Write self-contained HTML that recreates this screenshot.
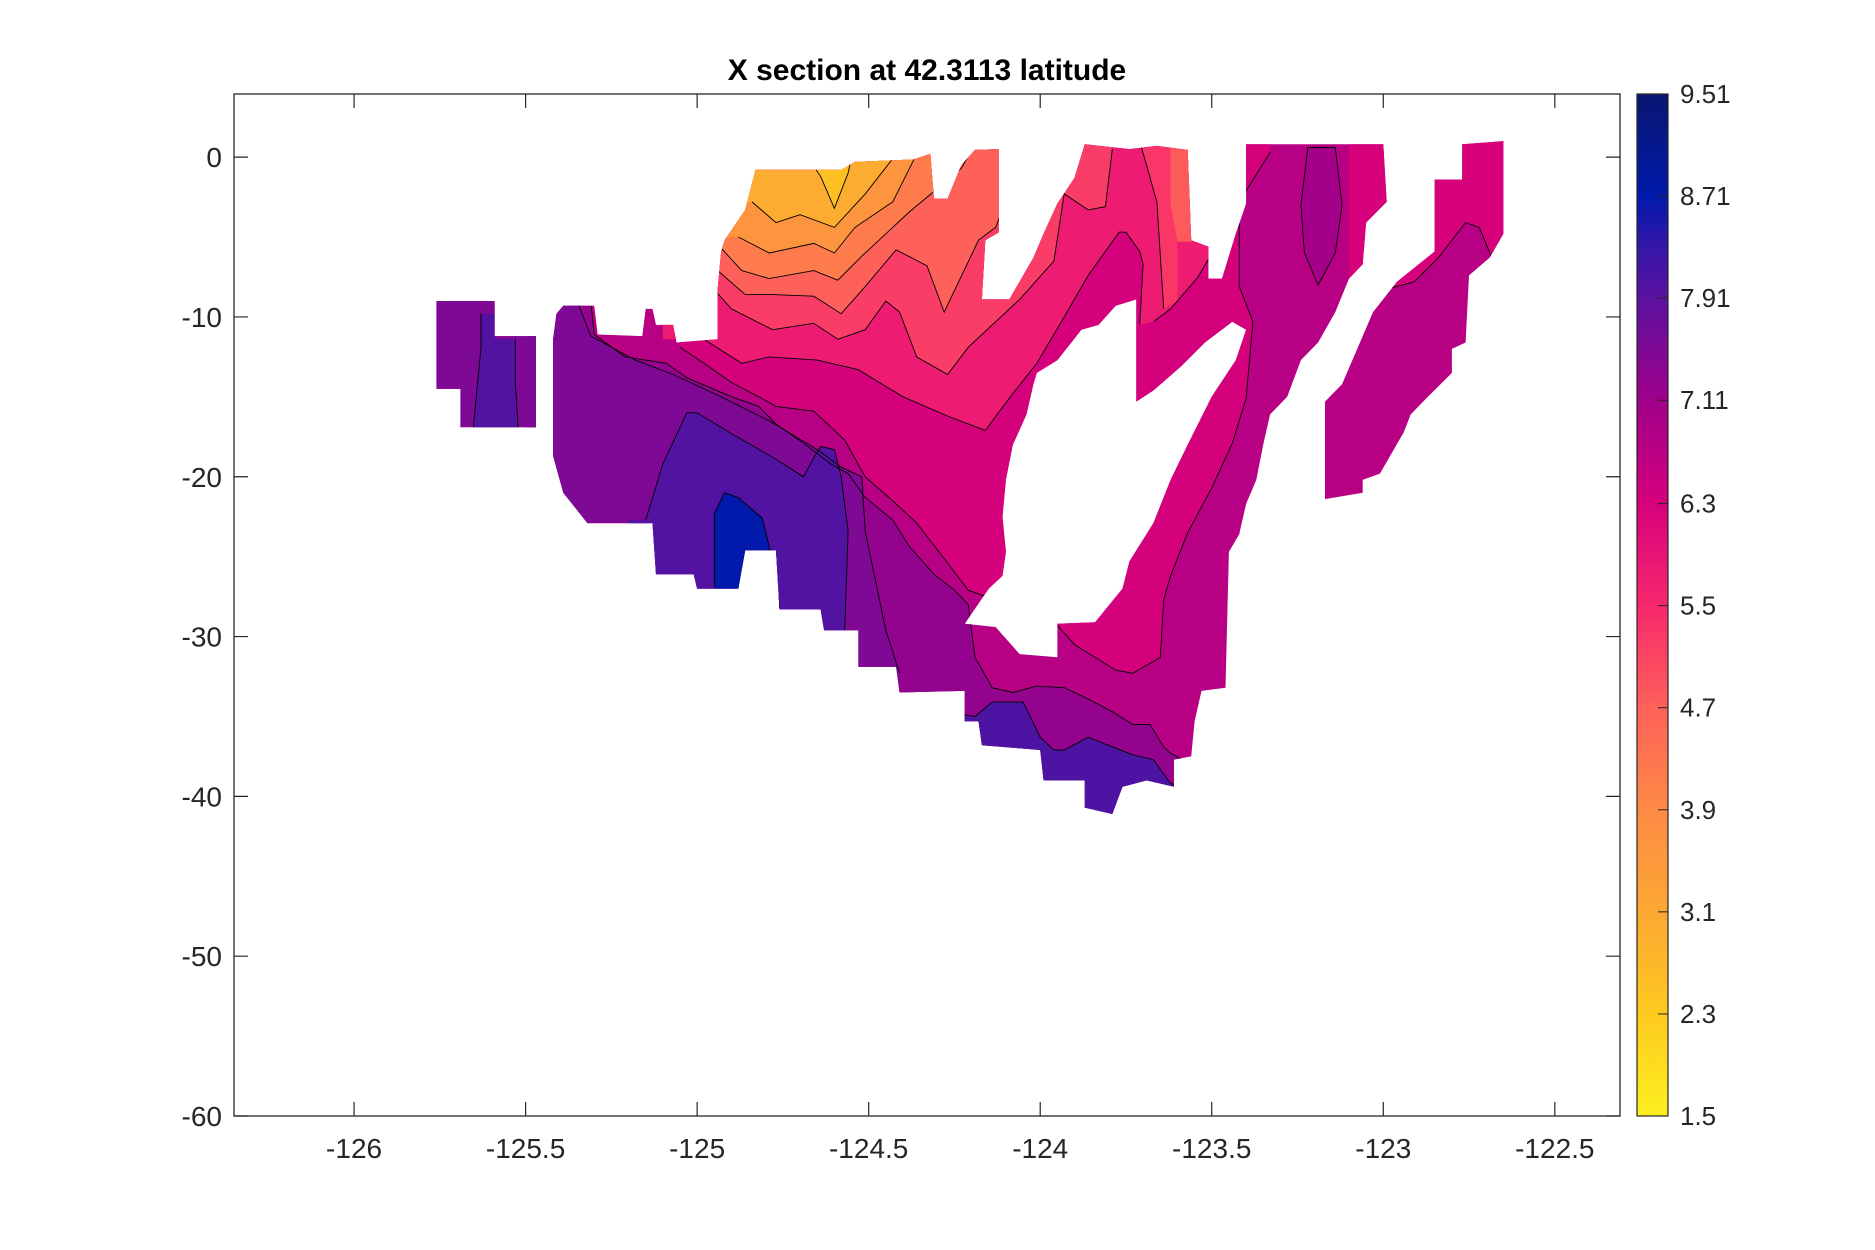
<!DOCTYPE html>
<html><head><meta charset="utf-8"><title>X section at 42.3113 latitude</title>
<style>html,body{margin:0;padding:0;background:#fff}svg{display:block}text{font-family:"Liberation Sans",Arial,sans-serif;fill:#262626}</style>
</head><body>
<svg id="chart" width="1875" height="1250" viewBox="0 0 1875 1250" xmlns="http://www.w3.org/2000/svg">
<defs><linearGradient id="cbgrad" x1="0" y1="1" x2="0" y2="0"></linearGradient><clipPath id="maskclip"><path id="maskpath" clip-rule="evenodd"></path></clipPath></defs>
<text x="927" y="80" text-anchor="middle" font-size="30" font-weight="bold" style="fill:#000">X section at 42.3113 latitude</text>
<g id="fills" clip-path="url(#maskclip)"></g>
<g id="clines" clip-path="url(#maskclip)"></g>
<g id="axes"></g>
<g id="cbar"></g>
</svg>
<script>
const xTicks=[-126,-125.5,-125,-124.5,-124,-123.5,-123,-122.5];
const xTickLabels=["-126","-125.5","-125","-124.5","-124","-123.5","-123","-122.5"];
const yTicks=[0,-10,-20,-30,-40,-50,-60];
const yTickLabels=["0","-10","-20","-30","-40","-50","-60"];
const cbTicks=[1.5,2.3,3.1,3.9,4.7,5.5,6.3,7.11,7.91,8.71,9.51];
const cbTickLabels=["1.5","2.3","3.1","3.9","4.7","5.5","6.3","7.11","7.91","8.71","9.51"];
const cmapStops=[[1.5,'#fdf021'],[2.3,'#fdc91f'],[3.1,'#fca832'],[3.9,'#fd8a45'],[4.7,'#fe6159'],[5.5,'#f8286d'],[6.3,'#d5007c'],[7.11,'#a0008a'],[7.91,'#5b12a0'],[8.3,'#3516a8'],[8.71,'#001aab'],[9.51,'#0a1670']];
const maskA=[[-125.76,-9.0],[-125.59,-9.0],[-125.59,-11.2],[-125.47,-11.2],[-125.47,-16.9],[-125.69,-16.9],[-125.69,-14.5],[-125.76,-14.5]];
const maskB=[[-125.42,-11.4],[-125.41,-9.8],[-125.39,-9.3],[-125.30,-9.3],[-125.29,-11.1],[-125.16,-11.2],[-125.15,-9.5],[-125.13,-9.5],[-125.12,-10.5],[-125.07,-10.5],[-125.06,-11.6],[-124.94,-11.4],[-124.94,-8.2],[-124.93,-5.9],[-124.92,-5.2],[-124.86,-3.3],[-124.83,-0.8],[-124.58,-0.8],[-124.54,-0.3],[-124.37,-0.15],[-124.32,0.2],[-124.31,-2.6],[-124.27,-2.6],[-124.23,-0.5],[-124.19,0.45],[-124.12,0.5],[-124.12,-4.7],[-124.16,-5.2],[-124.17,-8.9],[-124.09,-8.9],[-124.02,-6.3],[-123.99,-4.8],[-123.95,-2.9],[-123.90,-1.3],[-123.87,0.8],[-123.74,0.5],[-123.66,0.7],[-123.57,0.45],[-123.56,-5.2],[-123.51,-5.6],[-123.51,-7.6],[-123.47,-7.6],[-123.43,-4.8],[-123.40,-2.9],[-123.40,0.8],[-123.00,0.8],[-122.99,-2.8],[-123.05,-4.1],[-123.06,-6.7],[-123.10,-7.6],[-123.14,-9.7],[-123.19,-11.6],[-123.24,-12.7],[-123.28,-15.0],[-123.33,-16.1],[-123.35,-18.0],[-123.37,-20.2],[-123.40,-21.7],[-123.42,-23.6],[-123.45,-24.7],[-123.46,-33.2],[-123.53,-33.4],[-123.55,-35.3],[-123.56,-37.5],[-123.61,-37.7],[-123.61,-39.4],[-123.69,-39.0],[-123.76,-39.4],[-123.79,-41.1],[-123.87,-40.7],[-123.87,-39.0],[-123.99,-39.0],[-124.00,-37.1],[-124.17,-36.8],[-124.18,-35.3],[-124.22,-35.3],[-124.22,-33.4],[-124.41,-33.5],[-124.42,-31.9],[-124.53,-31.9],[-124.53,-29.6],[-124.63,-29.6],[-124.64,-28.3],[-124.76,-28.3],[-124.77,-24.6],[-124.86,-24.6],[-124.88,-27.0],[-125.00,-27.0],[-125.01,-26.1],[-125.12,-26.1],[-125.13,-22.9],[-125.32,-22.9],[-125.39,-21.0],[-125.42,-18.7]];
const hole=[[-124.02,-14.2],[-124.04,-16.1],[-124.08,-18.0],[-124.10,-20.2],[-124.11,-22.5],[-124.10,-24.7],[-124.11,-26.2],[-124.15,-27.0],[-124.22,-29.2],[-124.13,-29.4],[-124.06,-31.1],[-123.95,-31.3],[-123.95,-29.2],[-123.84,-29.1],[-123.76,-27.0],[-123.74,-25.3],[-123.67,-22.9],[-123.62,-20.2],[-123.57,-18.0],[-123.50,-15.0],[-123.43,-12.7],[-123.40,-10.8],[-123.44,-10.3],[-123.52,-11.6],[-123.59,-13.1],[-123.67,-14.6],[-123.72,-15.3],[-123.72,-8.9],[-123.78,-9.3],[-123.83,-10.5],[-123.88,-10.8],[-123.95,-12.7],[-124.01,-13.5]];
const maskC=[[-123.17,-15.3],[-123.12,-14.2],[-123.06,-11.2],[-123.03,-9.7],[-122.96,-7.8],[-122.85,-5.9],[-122.85,-1.4],[-122.77,-1.4],[-122.77,0.8],[-122.65,1.0],[-122.65,-4.8],[-122.69,-6.3],[-122.75,-7.4],[-122.76,-11.6],[-122.80,-12.0],[-122.80,-13.5],[-122.87,-15.0],[-122.92,-16.1],[-122.94,-17.2],[-122.98,-18.7],[-123.01,-19.8],[-123.06,-20.2],[-123.06,-21.0],[-123.17,-21.4]];
const lineL2=[[-124.84,-2.8],[-124.77,-4.1],[-124.70,-3.6],[-124.60,-4.4],[-124.51,-2.3],[-124.43,-0.1]];
const lineL3=[[-124.88,-5.0],[-124.79,-6.0],[-124.66,-5.4],[-124.60,-6.0],[-124.54,-4.4],[-124.43,-2.8],[-124.36,0.2]];
const lineL4=[[-124.93,-5.7],[-124.87,-7.1],[-124.79,-7.6],[-124.66,-7.1],[-124.59,-7.7],[-124.52,-6.2],[-124.38,-3.4],[-124.29,-1.8],[-124.23,-0.7],[-124.19,0.8]];
const lineL5=[[-124.94,-7.1],[-124.86,-8.6],[-124.78,-8.6],[-124.66,-8.7],[-124.58,-9.8],[-124.51,-8.1],[-124.42,-5.8],[-124.33,-6.8],[-124.28,-9.7],[-124.18,-5.2],[-124.13,-4.4],[-124.09,-2.2]];
const lineL6=[[-124.95,-8.3],[-124.90,-9.5],[-124.78,-10.8],[-124.66,-10.4],[-124.59,-11.4],[-124.51,-10.8],[-124.45,-9.0],[-124.41,-9.7],[-124.36,-12.5],[-124.27,-13.6],[-124.21,-11.9],[-124.06,-8.9],[-123.96,-6.5],[-123.93,-2.3],[-123.86,-3.3],[-123.81,-3.1],[-123.79,0.5]];
const lineL7=[[-124.98,-11.4],[-124.87,-12.9],[-124.79,-12.5],[-124.65,-12.7],[-124.53,-13.3],[-124.40,-15.0],[-124.27,-16.2],[-124.16,-17.1],[-124.08,-14.8],[-124.01,-12.9],[-123.93,-10.0],[-123.86,-7.4],[-123.77,-4.7],[-123.75,-4.7],[-123.71,-5.9],[-123.70,-6.7],[-123.71,-10.5]];
const lineM0=[[-123.67,-10.3],[-123.62,-9.5],[-123.54,-7.5],[-123.48,-5.3],[-123.47,-3.0],[-123.46,1.6]];
const lineK1=[[-125.05,-11.9],[-124.98,-12.9],[-124.90,-14.1],[-124.82,-15.0],[-124.77,-15.6],[-124.66,-15.9],[-124.57,-17.7],[-124.51,-20.0],[-124.43,-21.5],[-124.36,-22.9],[-124.27,-25.4],[-124.21,-27.1],[-124.13,-27.7]];
const lineD6=[[-123.95,-29.3],[-123.90,-30.5],[-123.78,-32.1],[-123.73,-32.3],[-123.65,-31.3],[-123.64,-27.7],[-123.62,-26.2],[-123.57,-23.5],[-123.50,-20.7],[-123.44,-17.9],[-123.40,-15.1],[-123.38,-10.3],[-123.42,-8.1],[-123.42,-2.8],[-123.33,0.3]];
const lineK2=[[-125.31,-9.0],[-125.30,-11.1],[-125.21,-12.5],[-125.09,-12.9],[-125.03,-13.8],[-124.90,-15.0],[-124.82,-15.6],[-124.77,-16.7],[-124.69,-17.9],[-124.61,-19.2],[-124.56,-19.8],[-124.51,-21.3],[-124.43,-22.7],[-124.38,-24.4],[-124.31,-26.1],[-124.25,-27.1],[-124.21,-28.0],[-124.19,-31.3],[-124.14,-33.2],[-124.08,-33.5],[-124.01,-33.1],[-123.93,-33.2],[-123.87,-33.8],[-123.79,-34.7],[-123.73,-35.5],[-123.68,-35.5],[-123.64,-36.9],[-123.62,-37.3],[-123.57,-37.9]];
const lineK3=[[-125.35,-9.0],[-125.31,-11.2],[-125.18,-12.7],[-125.07,-13.6],[-124.93,-15.0],[-124.79,-16.5],[-124.65,-18.3],[-124.58,-19.4],[-124.52,-20.0],[-124.51,-23.4],[-124.45,-29.6],[-124.41,-32.3]];
const lineK4=[[-125.15,-22.7],[-125.10,-19.2],[-125.03,-16.0],[-125.00,-16.0],[-124.90,-17.3],[-124.77,-18.9],[-124.69,-20.0],[-124.66,-18.8],[-124.64,-18.1],[-124.60,-18.3],[-124.58,-20.0],[-124.56,-23.4],[-124.57,-29.6],[-124.57,-32.3]];
const lineLow=[[-124.25,-34.8],[-124.19,-35.0],[-124.14,-34.1],[-124.05,-34.1],[-124.00,-36.3],[-123.96,-37.1],[-123.93,-37.1],[-123.86,-36.3],[-123.79,-36.9],[-123.73,-37.4],[-123.67,-37.7],[-123.64,-38.6],[-123.62,-39.2],[-123.57,-39.4]];
const lineBlue=[[-124.95,-26.9],[-124.95,-22.3],[-124.92,-21.0],[-124.88,-21.3],[-124.81,-22.6],[-124.77,-26.1],[-124.76,-28.2]];
const lineYellow=[[-124.68,0],[-124.64,-1.2],[-124.60,-3.2],[-124.56,-1.0],[-124.55,0]];
const lineStripC=[[-122.98,-8.2],[-122.91,-7.8],[-122.84,-6.3],[-122.76,-4.1],[-122.72,-4.4],[-122.68,-6.5]];
const pocket=[[-123.22,0.6],[-123.14,0.6],[-123.12,-3],[-123.14,-6],[-123.19,-8.0],[-123.23,-6],[-123.24,-3]];
const leftStrip=[[-125.63,-9.8],[-125.59,-9.8],[-125.59,-11.4],[-125.53,-11.4],[-125.53,-14.0],[-125.52,-17.5],[-125.655,-17.5],[-125.63,-11.9]];
const midPink=[[-123.71,1],[-123.66,-2.8],[-123.64,-9.5],[-123.60,-9],[-123.60,1]];
const midSalmon=[[-123.62,1],[-123.62,-3],[-123.60,-5.3],[-123.56,-5.3],[-123.56,1]];
const levelValues={base:6.75,K2:7.25,K3:7.5,K4:8.0,blue:8.7,low:8.05,D6:6.3,L7:5.75,L6:5.2,L5:4.7,L4:4.2,L3:3.6,L2:3.0,yellow:2.5,midPink:5.3,midSalmon:4.8,pocket:7.05,stripC:6.25,leftA:7.5,leftStrip:8.0};

const X0=-126.35,X1=-122.31,Y0=-60,Y1=3.95;
function xs(v){return 234+(v-X0)/(X1-X0)*1386;}
function ys(v){return 1116-(v-Y0)/(Y1-Y0)*1022;}
function hex(c){return [parseInt(c.substr(1,2),16),parseInt(c.substr(3,2),16),parseInt(c.substr(5,2),16)];}
function cmap(v){
  if(v<=cmapStops[0][0])return cmapStops[0][1];
  for(let i=1;i<cmapStops.length;i++){if(v<=cmapStops[i][0]){const a=cmapStops[i-1],b=cmapStops[i];const t=(v-a[0])/(b[0]-a[0]);const ca=hex(a[1]),cb=hex(b[1]);return 'rgb('+ca.map((q,k)=>Math.round(q+(cb[k]-q)*t)).join(',')+')';}}
  return cmapStops[cmapStops.length-1][1];
}
function pts(arr){return arr.map((p,i)=>(i?'L':'M')+xs(p[0]).toFixed(1)+','+ys(p[1]).toFixed(1)).join('');}
const NS='http://www.w3.org/2000/svg';
function mk(tag,attrs,parent){const e=document.createElementNS(NS,tag);for(const k in attrs)e.setAttribute(k,attrs[k]);parent.appendChild(e);return e;}
document.getElementById('maskpath').setAttribute('d',pts(maskA)+'Z'+pts(maskB)+'Z'+pts(hole)+'Z'+pts(maskC)+'Z');
const fillG=document.getElementById('fills'),lineG=document.getElementById('clines');
function band(name,poly){const e=mk('path',{d:pts(poly)+'Z',fill:cmap(levelValues[name])},fillG);

}
function closeLine(line,extra){return line.concat(extra);}
const base=mk('rect',{x:234,y:94,width:1386,height:1022,fill:cmap(levelValues.base)},fillG);


band('K2',closeLine(lineK2,[[-123.5,-45],[-125.5,-45],[-125.5,-9]]));
band('K3',closeLine(lineK3,[[-124.41,-45],[-125.5,-45],[-125.5,-9]]));
band('K4',closeLine(lineK4,[[-124.57,-45],[-125.2,-45],[-125.2,-22.7]]));
band('blue',closeLine(lineBlue,[[-124.76,-30],[-124.95,-30]]));
band('low',closeLine(lineLow,[[-123.5,-39.4],[-123.5,-45],[-124.3,-45],[-124.3,-34.8]]));
band('D6',lineK1.concat(lineD6,[[-123.33,2],[-125.1,2]]));
band('L7',lineL7.concat(lineM0,[[-125.1,2],[-125.1,-11.4]]));
band('L6',closeLine(lineL6,[[-123.79,2],[-125.0,2],[-125.0,-8.3]]));
band('midPink',midPink);
band('midSalmon',midSalmon);
band('L5',closeLine(lineL5,[[-124.09,2],[-125.0,2],[-125.0,-7.1]]));
band('L4',closeLine(lineL4,[[-124.19,2],[-125.0,2],[-125.0,-5.7]]));
band('L3',closeLine(lineL3,[[-124.36,2],[-125.0,2],[-125.0,-5.0]]));
band('L2',closeLine(lineL2,[[-124.43,2],[-125.0,2],[-125.0,-2.8]]));
band('yellow',closeLine(lineYellow,[[-124.55,2],[-124.68,2]]));
band('pocket',pocket);
band('stripC',closeLine(lineStripC,[[-122.6,-6.5],[-122.6,2],[-123.1,2],[-123.1,-8.2]]));
band('leftA',maskA);
band('leftStrip',leftStrip);
const strokeSets=[['L2',lineL2],['L3',lineL3],['L4',lineL4],['L5',lineL5],['L6',lineL6],['L7',lineL7],['M0',lineM0],['K1',lineK1],['D6',lineD6],['K2',lineK2],['K3',lineK3],['K4',lineK4],['low',lineLow],['blue',lineBlue],['yellow',lineYellow],['stripC',lineStripC],['pocket',pocket.concat([pocket[0]])],['left-strip-a',leftStrip.slice(3,6)],['left-strip-b',[leftStrip[6],leftStrip[7],leftStrip[0]]],['mid-a',midPink.slice(0,3)]];
strokeSets.forEach(s=>{const e=mk('path',{d:pts(s[1]),fill:'none',stroke:'#000','stroke-width':0.9},lineG);

});
const ax=document.getElementById('axes');
const box=mk('rect',{x:234,y:94,width:1386,height:1022,fill:'none',stroke:'#262626','stroke-width':1.3},ax);


xTicks.forEach((t,i)=>{const X=xs(t);
 const a=mk('path',{d:'M'+X+',1116V1102M'+X+',94V108',stroke:'#262626','stroke-width':1.2},ax);
 
 
 const l=mk('text',{x:X,y:1158,'text-anchor':'middle','font-size':28},ax);l.textContent=xTickLabels[i];
 
 });
yTicks.forEach((t,i)=>{const Y=ys(t);
 const a=mk('path',{d:'M234,'+Y+'H248M1620,'+Y+'H1606',stroke:'#262626','stroke-width':1.2},ax);
 
 
 const l=mk('text',{x:222,y:Y+10,'text-anchor':'end','font-size':28},ax);l.textContent=yTickLabels[i];
 
 });
const grad=document.getElementById('cbgrad');const cmin=1.5,cmax=9.51;
for(let k=0;k<=40;k++){const v=cmin+(cmax-cmin)*k/40;mk('stop',{offset:(k/40),'stop-color':cmap(v)},grad);}
const cb=document.getElementById('cbar');
const cbr=mk('rect',{x:1637,y:94,width:31,height:1022,fill:'url(#cbgrad)',stroke:'#262626','stroke-width':1.2},cb);


function cy(v){return 1116-(v-cmin)/(cmax-cmin)*1022;}
cbTicks.forEach((t,i)=>{const Y=cy(t);
 const a=mk('path',{d:'M1668,'+Y+'H1658',stroke:'#262626','stroke-width':1},cb);
 
 
 const l=mk('text',{x:1680,y:Y+9,'font-size':26},cb);l.textContent=cbTickLabels[i];
 
 });
</script>
</body></html>
